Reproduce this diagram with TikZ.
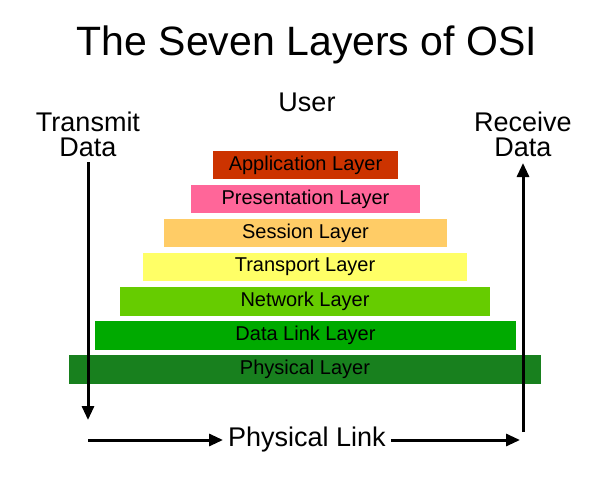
\documentclass[tikz,border=0pt]{standalone}
\usepackage{fontspec}
\setmainfont{Liberation Sans}
\usetikzlibrary{arrows.meta}
\begin{document}
\begin{tikzpicture}[x=1pt,y=-1pt,
  bar/.style={inner sep=0pt,font=\fontsize{20}{22}\selectfont},
  lbl/.style={font=\fontsize{27}{27}\selectfont,align=center},
  arr/.style={line width=3pt,-{Triangle[length=14pt,width=12pt]}}]
\useasboundingbox (0,0) rectangle (614,480);
\fill[white] (0,0) rectangle (614,480);
\node[font=\fontsize{41}{44}\selectfont] (title) at (307,45) {The Seven Layers of OSI};
\node[lbl] (user) at (307,102) {User};
\node[lbl,font=\fontsize{27}{25}\selectfont] (tx) at (88,134) {Transmit\\Data};
\node[lbl,font=\fontsize{27}{25}\selectfont] (rx) at (523,134) {Receive\\Data};
\def\bar#1#2#3#4#5#6{\fill[#6] (#2,#4) rectangle (#3,#5);
  \node[bar] (#1) at ({(#2+#3)/2},{(#4+#5)/2}) {#1 Layer};}
\definecolor{c1}{HTML}{CC3300}\definecolor{c2}{HTML}{FF6699}
\definecolor{c3}{HTML}{FFCC66}\definecolor{c4}{HTML}{FFFF66}
\definecolor{c5}{HTML}{66CC00}\definecolor{c6}{HTML}{00AA00}
\definecolor{c7}{HTML}{18801E}
\bar{Application}{213}{398}{151}{179}{c1}
\bar{Presentation}{191}{420}{185}{213}{c2}
\bar{Session}{164}{447}{219}{247}{c3}
\bar{Transport}{143}{467}{253}{281}{c4}
\bar{Network}{120}{490}{287}{316}{c5}
\bar{Data Link}{95}{516}{321}{350}{c6}
\bar{Physical}{69}{541}{355}{384}{c7}
\node[lbl,inner sep=5pt] (link) at (307,440) {Physical Link};
\coordinate (lt) at (88,162); \coordinate (lb) at (88,420);
\coordinate (bl) at (88,440); \coordinate (br) at (520,440);
\coordinate (rb) at (523,432); \coordinate (rt) at (523,163);
\draw[arr] (lt) -- (lb);
\draw[arr] (bl) -- (link.west);
\draw[arr] (link.east) -- (br);
\draw[arr] (rb) -- (rt);
\end{tikzpicture}
\end{document}
